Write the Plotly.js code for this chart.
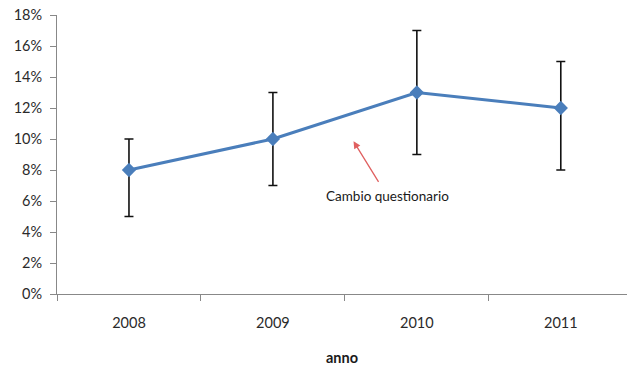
<!DOCTYPE html>
<html><head><meta charset="utf-8">
<script src="https://cdn.plot.ly/plotly-3.0.1.min.js"></script>
<style>html,body{margin:0;padding:0;background:#fff;overflow:hidden}</style>
</head><body><div id="chart" style="width:627px;height:367px"></div>
<script>
const years = ["2008", "2009", "2010", "2011"];
const values = [0.08, 0.10, 0.13, 0.12];
const errPlus = [0.02, 0.03, 0.04, 0.03];
const errMinus = [0.03, 0.03, 0.04, 0.04];
const yTicks = [0, 0.02, 0.04, 0.06, 0.08, 0.10, 0.12, 0.14, 0.16, 0.18];
const noteText = "Cambio questionario";
const notePoint = {x: 1.56, y: 0.0985};

const font = "Lato, 'Open Sans', sans-serif";
Plotly.newPlot("chart", [{
  x: years, y: values, type: "scatter", mode: "lines+markers",
  line: {color: "#4a7ebb", width: 3},
  marker: {symbol: "diamond", size: 11, color: "#4a7ebb"},
  error_y: {type: "data", symmetric: false, array: errPlus, arrayminus: errMinus,
            color: "#111", thickness: 1.6, width: 4.5},
  hoverinfo: "none"
}], {
  width: 627, height: 367,
  margin: {l: 57, r: 0, t: 15, b: 73},
  paper_bgcolor: "#fff", plot_bgcolor: "#fff",
  showlegend: false,
  font: {family: font, size: 14.5, color: "#2a2a2a"},
  xaxis: {type: "category", range: [-0.5, 3.46], tickson: "boundaries",
          ticks: "outside", ticklen: 6, tickcolor: "#888", showline: true, linecolor: "#888",
          showgrid: false, zeroline: false, ticklabelstandoff: 16,
          title: {text: "anno", font: {family: font, size: 14.5, color: "#1a1a1a", weight: "bold"}, standoff: 22}},
  yaxis: {range: [0, 0.18], tickvals: yTicks, tickformat: ".0%",
          ticks: "outside", ticklen: 6, tickcolor: "#888", showline: true, linecolor: "#888",
          showgrid: false, zeroline: false, ticklabelstandoff: 5},
  annotations: [{x: notePoint.x, y: notePoint.y, xref: "x", yref: "y",
    text: noteText, showarrow: true, ax: 34, ay: 55, arrowhead: 2, arrowsize: 1.1,
    arrowwidth: 1.3, arrowcolor: "#e06060", borderpad: 6,
    font: {family: font, size: 13.5, color: "#1a1a1a"}}]
}, {staticPlot: true});
</script></body></html>
